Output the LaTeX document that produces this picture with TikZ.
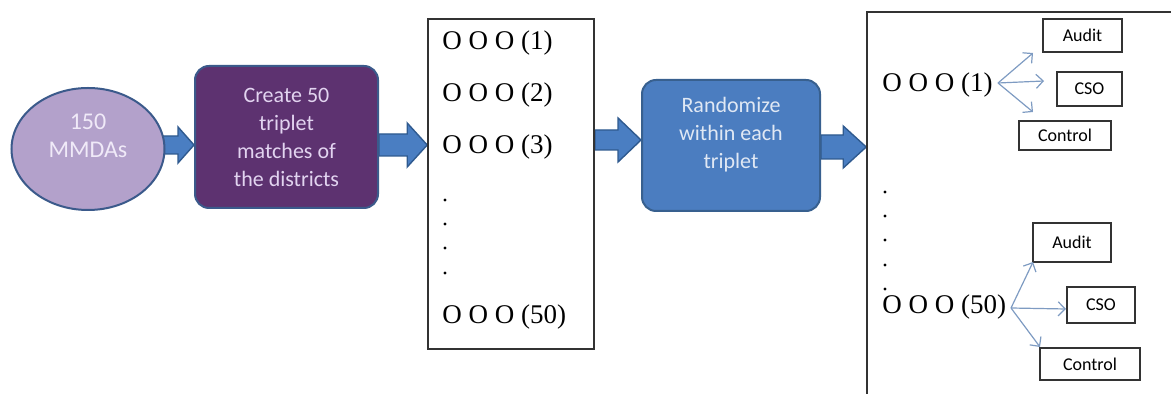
\documentclass[tikz,border=0pt]{standalone}
\usepackage{fontspec}
\setmainfont{Carlito}
\newfontfamily\tms{Liberation Serif}
\usetikzlibrary{shapes.geometric,arrows.meta,calc,backgrounds}
\definecolor{ellfill}{HTML}{B3A1CB}
\definecolor{ellline}{HTML}{3B5A8B}
\definecolor{purfill}{HTML}{5D3270}
\definecolor{purtext}{HTML}{E2D4F0}
\definecolor{bluefill}{HTML}{4B7DC0}
\definecolor{blueline}{HTML}{38608F}
\definecolor{bluetext}{HTML}{E0E8F4}
\definecolor{arrowfill}{HTML}{4A7EC2}
\definecolor{arrowline}{HTML}{2F5A8F}
\definecolor{thinarrow}{HTML}{7E9BC2}
\definecolor{boxline}{HTML}{333333}
\begin{document}
\begin{tikzpicture}[x=0.5pt,y=-0.5pt,
  blockarrow/.style n args={3}{draw=arrowline, fill=arrowfill, line width=0.7pt, line join=miter,
    to path={let \p1=(\tikztostart), \p2=(\tikztotarget) in
      (\x1,\y1+#1) -- (\x2-#3,\y1+#1) -- (\x2-#3,\y1+#2) -- (\x2,\y1)
      -- (\x2-#3,\y1-#2) -- (\x2-#3,\y1-#1) -- (\x1,\y1-#1) -- cycle}},
  bigtext/.style={font=\fontsize{11}{14}\selectfont, align=center},
  trip/.style={font=\tms\fontsize{13.5}{16}\selectfont, inner sep=0pt, anchor=west},
  dotmark/.style={circle, fill=black, inner sep=0pt, minimum size=1.6pt},
  smallbox/.style={draw=boxline, line width=0.6pt, font=\fontsize{9}{11}\selectfont, inner sep=0pt},
  thin/.style={draw=thinarrow, line width=0.6pt, -{Straight Barb[length=3.5pt,width=7pt]}},
]
\useasboundingbox (0,0) rectangle (1171,394);
\clip (0,0) rectangle (1171,394);

% ellipse
\node[ellipse, draw=ellline, line width=1pt, fill=ellfill, minimum width=76.5pt, minimum height=61pt] (ell) at (88,149) {};
\node[bigtext, text=purtext!50!white, font=\fontsize{12}{14}\selectfont] (elltext) at (88,136) {150\\MMDAs};

% purple box
\node[rectangle, rounded corners=7pt, draw=ellline, line width=1pt, fill=purfill, minimum width=91.5pt, minimum height=71pt] (box1) at (286.5,137) {};
\node[bigtext, text=purtext] (box1text) at (286.5,137) {Create 50\\triplet\\matches of\\the districts};

% list box
\node[rectangle, draw=boxline, line width=0.8pt, minimum width=83pt, minimum height=165pt] (list) at (511,184) {};
\node[trip] (l1) at (442,43) {O O O (1)};
\node[trip] (l2) at (442,95) {O O O (2)};
\node[trip] (l3) at (442,147) {O O O (3)};
\node[dotmark] (ld1) at (445,200) {};
\node[dotmark] (ld2) at (445,224) {};
\node[dotmark] (ld3) at (445,248) {};
\node[dotmark] (ld4) at (445,273) {};
\node[trip] (l50) at (442,317) {O O O (50)};

% blue box
\node[rectangle, rounded corners=7pt, draw=blueline, line width=1pt, fill=bluefill, minimum width=89pt, minimum height=65.5pt] (box2) at (731,145.5) {};
\node[bigtext, text=bluetext] (box2text) at (731,135) {Randomize\\within each\\triplet};

% right box (cut off)
\node[rectangle, draw=boxline, line width=0.8pt, minimum width=162pt, minimum height=201pt] (rbox) at (1029,213) {};

% first triplet
\node[trip] (r1) at (882,85) {O O O (1)};
\node[smallbox, minimum width=39.5pt, minimum height=16.5pt] (a1) at (1082.5,35.5) {Audit};
\node[smallbox, minimum width=32.5pt, minimum height=17pt] (c1) at (1089.5,89) {CSO};
\node[smallbox, minimum width=46pt, minimum height=14.5pt] (k1) at (1065,135.5) {Control};
\coordinate (r1s) at (998,83);
\coordinate (r1a) at (1033,53);
\coordinate (r1c) at (1044,81);
\coordinate (r1k) at (1033,112);
\draw[thin] (r1s) -- (r1a);
\draw[thin] (r1s) -- (r1c);
\draw[thin] (r1s) -- (r1k);

% dots
\node[dotmark] (rd1) at (885,192) {};
\node[dotmark] (rd2) at (885,216) {};
\node[dotmark] (rd3) at (885,240) {};
\node[dotmark] (rd4) at (885,265) {};
\node[dotmark] (rd5) at (885,289) {};

% fiftieth triplet
\node[trip] (r50) at (882,307) {O O O (50)};
\node[smallbox, minimum width=39pt, minimum height=19.5pt] (a2) at (1072,242.5) {Audit};
\node[smallbox, minimum width=34pt, minimum height=18pt] (c2) at (1101,305) {CSO};
\node[smallbox, minimum width=50pt, minimum height=16pt] (k2) at (1090,364) {Control};
\coordinate (r50s) at (1011,308);
\coordinate (r50a) at (1033,262);
\coordinate (r50c) at (1066,309);
\coordinate (r50k) at (1040,347);
\draw[thin] (r50s) -- (r50a);
\draw[thin] (r50s) -- (r50c);
\draw[thin] (r50s) -- (r50k);

% block arrows
\begin{scope}[on background layer]
\coordinate (s1) at (ell.center |- 0,145);
\draw[blockarrow={4.5pt}{9pt}{8pt}] (s1) to (box1.west |- 0,145);
\coordinate (s2) at (box1.east |- 0,145);
\draw[blockarrow={5.5pt}{11pt}{10pt}] (s2) to (list.west |- 0,145);
\coordinate (s3) at (list.east |- 0,140);
\draw[blockarrow={5pt}{11pt}{11.5pt}] (s3) to (box2.west |- 0,140);
\coordinate (s4) at (box2.east |- 0,147);
\draw[blockarrow={6pt}{10.5pt}{11.5pt}] (s4) to (rbox.west |- 0,147);
\end{scope}
\end{tikzpicture}
\end{document}
